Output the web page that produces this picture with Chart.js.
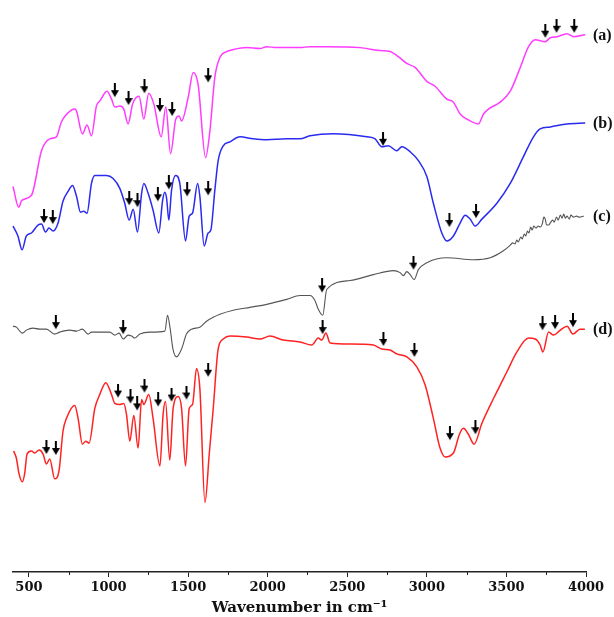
<!DOCTYPE html>
<html>
<head>
<meta charset="utf-8">
<script src="https://cdn.jsdelivr.net/npm/chart.js@4.4.1/dist/chart.umd.min.js"></script>
<style>
  html, body { margin: 0; padding: 0; background: #ffffff; }
  #wrap { width: 614px; height: 617px; }
</style>
</head>
<body>
<div id="wrap"><canvas id="c" width="614" height="617"></canvas></div>
<script>
// ---- Data (wavenumber in cm^-1, offset transmittance in arbitrary units) ----
const seriesLabels = ['(a)', '(b)', '(c)', '(d)'];
const xTickValues = [500, 1000, 1500, 2000, 2500, 3000, 3500, 4000];
const xMinorTicks = [750, 1250, 1750, 2250, 2750, 3250, 3750];

const wnA = [400,436,455,516,579,631,673,704,767,788,799,836,865,893,924,945,991,1019,1040,1071,1096,1123,1151,1192,1222,1253,1285,1331,1360,1390,1423,1444,1459,1501,1532,1563,1610,1637,1668,1700,1742,1784,1868,1951,1994,2056,2203,2266,2371,2580,2706,2768,2821,2874,2926,3000,3052,3126,3167,3209,3251,3324,3356,3387,3461,3524,3587,3639,3681,3744,3776,3818,3881,3922,3995];
const tA  = [389,368,375,380,425,437,439,454,466,467,465,442,451,440,470,475,485,477,469,470,467,452,472,480,457,483,472,439,469,422,457,460,455,479,504,492,418,445,499,519,525,527,529,528,530,529,529,530,530,529,526,525,520,513,509,495,490,477,474,462,457,452,462,467,474,485,509,530,537,535,539,540,543,540,542];

const wnB = [400,431,457,484,516,557,579,604,626,652,683,714,746,774,799,824,845,865,893,914,987,1029,1071,1102,1130,1155,1182,1208,1222,1249,1280,1316,1340,1354,1365,1379,1396,1421,1448,1484,1507,1528,1560,1574,1601,1626,1643,1668,1689,1721,1763,1826,1909,1994,2119,2203,2266,2412,2622,2675,2717,2758,2811,2843,2895,2947,3000,3041,3094,3126,3167,3209,3241,3272,3304,3346,3440,3524,3607,3670,3712,3776,3881,3995];
const tB  = [349,339,325,339,342,350,351,343,347,344,352,374,384,390,379,363,364,362,392,400,400,397,387,372,355,366,343,382,392,382,365,342,375,383,377,355,385,400,392,334,359,362,392,379,329,342,345,385,415,430,434,439,437,436,437,437,440,442,439,437,429,430,425,429,424,415,399,372,342,334,339,352,360,356,349,356,372,392,419,439,447,449,452,453];

const wnC = [400,421,459,484,526,568,610,662,694,757,799,836,872,893,1008,1040,1067,1092,1123,1145,1165,1197,1260,1354,1371,1386,1406,1428,1459,1490,1522,1574,1616,1658,1700,1784,1889,1994,2119,2203,2266,2297,2318,2346,2371,2518,2664,2790,2832,2853,2874,2895,2920,2947,3000,3126,3293,3398,3481,3520,3540,3555,3565,3575,3590,3600,3612,3622,3632,3642,3652,3662,3672,3685,3700,3712,3725,3735,3744,3752,3765,3775,3790,3800,3815,3825,3839,3850,3860,3870,3881,3895,3905,3922,3940,3960,3985];
const tC  = [248,247,241,244,246,245,245,240,242,244,243,245,240,242,242,239,241,235,239,238,236,240,242,243,259,247,224,217,225,240,245,247,253,257,260,264,267,270,275,279,279,274,265,259,285,294,300,304,302,299,303,300,295,305,312,317,315,317,324,329,332,331,335,333,338,336,341,339,344,342,348,345,349,347,349,348,351,358,356,350,350,352,355,353,358,355,360,357,361,357,359,356,360,358,359,358,359];

const wnD = [404,421,438,459,474,488,516,536,564,589,610,631,662,689,714,736,788,809,836,857,878,914,945,983,1019,1040,1071,1096,1113,1134,1159,1186,1208,1222,1253,1280,1323,1343,1358,1385,1406,1438,1459,1484,1507,1528,1553,1574,1606,1633,1658,1689,1721,1763,1868,1951,2014,2098,2203,2277,2318,2340,2366,2392,2518,2664,2717,2769,2811,2874,2937,2989,3041,3083,3115,3167,3205,3230,3261,3297,3346,3419,3503,3566,3639,3681,3712,3729,3765,3796,3839,3881,3918,3962,3993];
const tD  = [122,115,99,91,100,119,122,120,123,119,109,114,94,102,142,155,168,155,129,132,130,165,179,191,179,170,169,170,159,132,158,125,174,169,179,155,107,159,172,113,165,177,165,107,165,169,205,185,70,119,165,225,235,238,237,235,238,234,232,229,236,234,241,231,230,229,225,224,220,217,207,189,155,125,116,120,139,145,139,129,150,175,202,222,236,235,229,222,242,239,244,248,240,245,245];

// Peak-marker arrows (wavenumber, value at arrow tip)
const arrowWnA = [1040,1126,1226,1323,1400,1626,3744,3815,3926];
const arrowTA  = [479,471,483,464,460,494,539,544,544];
const arrowWnB = [595,650,1130,1182,1310,1379,1494,1626,2725,3142,3309];
const arrowTB  = [352,351,370,368,374,386,379,380,430,348,357];
const arrowWnC = [669,1092,2342,2916];
const arrowTC  = [245,240,282,305];
const arrowWnD = [610,669,1060,1138,1180,1226,1312,1396,1490,1626,2345,2727,2922,3145,3305,3727,3806,3918];
const arrowTD  = [119,118,176,170,163,181,167,172,174,197,240,228,217,133,139,244,245,247];

// ---- Build ----
function zip(xs, ys) { return xs.map((x, i) => ({ x: x, y: ys[i] })); }

function makeArrow() {
  const c = document.createElement('canvas');
  c.width = 8; c.height = 28;
  const g = c.getContext('2d');
  g.fillStyle = '#000';
  g.fillRect(3, 0, 2, 8);
  g.beginPath();
  g.moveTo(0, 7); g.lineTo(8, 7); g.lineTo(4, 14); g.closePath();
  g.fill();
  return c;
}
const arrowImg = makeArrow();

const colors = ['#ff3cff', '#2a2af0', '#555555', '#ff2222'];
const widths = [1.5, 1.5, 1.1, 1.5];
const traces = [zip(wnA, tA), zip(wnB, tB), zip(wnC, tC), zip(wnD, tD)];

const datasets = traces.map((d, i) => ({
  type: 'line',
  label: seriesLabels[i],
  data: d,
  borderColor: colors[i],
  borderWidth: widths[i],
  pointRadius: 0,
  fill: false,
  cubicInterpolationMode: 'monotone',
  clip: false
}));

const arrows = [].concat(zip(arrowWnA, arrowTA), zip(arrowWnB, arrowTB), zip(arrowWnC, arrowTC), zip(arrowWnD, arrowTD));
datasets.push({
  type: 'scatter',
  label: 'markers',
  data: arrows,
  pointStyle: arrowImg,
  showLine: false,
  clip: false
});

const labelPlugin = {
  id: 'traceLabels',
  afterDatasetsDraw(chart) {
    const ctx = chart.ctx;
    ctx.save();
    ctx.font = 'bold 16px "Liberation Serif", "Times New Roman", serif';
    ctx.fillStyle = '#111';
    ctx.textBaseline = 'middle';
    ctx.textAlign = 'left';
    for (let i = 0; i < 4; i++) {
      const meta = chart.getDatasetMeta(i);
      const last = meta.data[meta.data.length - 1];
      ctx.fillText(seriesLabels[i], chart.chartArea.right + 7, last.y + 1);
    }
    ctx.restore();
  }
};

const minorTickPlugin = {
  id: 'minorTicks',
  afterDraw(chart) {
    const xs = chart.scales.x;
    const ctx = chart.ctx;
    ctx.save();
    ctx.strokeStyle = '#222';
    ctx.lineWidth = 1;
    const y0 = chart.chartArea.bottom;
    xMinorTicks.forEach(v => {
      const x = Math.round(xs.getPixelForValue(v)) + 0.5;
      ctx.beginPath();
      ctx.moveTo(x, y0);
      ctx.lineTo(x, y0 + 3);
      ctx.stroke();
    });
    ctx.restore();
  }
};

new Chart(document.getElementById('c'), {
  type: 'line',
  data: { datasets: datasets },
  plugins: [labelPlugin, minorTickPlugin],
  options: {
    responsive: false,
    devicePixelRatio: 1,
    animation: false,
    layout: { padding: { left: 13, right: 28, top: 0, bottom: 0 } },
    plugins: { legend: { display: false }, tooltip: { enabled: false } },
    scales: {
      x: {
        type: 'linear',
        min: 400,
        max: 4000,
        afterBuildTicks: (scale) => { scale.ticks = xTickValues.map(v => ({ value: v })); },
        afterFit: (scale) => { scale.height = 45; },
        grid: { display: true, drawOnChartArea: false, drawTicks: true, tickLength: 5, color: '#222', lineWidth: 1 },
        border: { display: true, color: '#222', width: 1.5 },
        ticks: {
          autoSkip: false,
          maxRotation: 0,
          padding: 3,
          color: '#111',
          font: { family: '"DejaVu Serif", serif', weight: 'bold', size: 13 },
          callback: (v) => String(v)
        },
        title: {
          display: true,
          text: 'Wavenumber in cm\u207B\u00B9',
          color: '#111',
          padding: { top: 0, bottom: 0 },
          font: { family: '"DejaVu Serif", serif', weight: 'bold', size: 15 }
        }
      },
      y: {
        display: false,
        min: 0,
        max: 572
      }
    }
  }
});
</script>
</body>
</html>
